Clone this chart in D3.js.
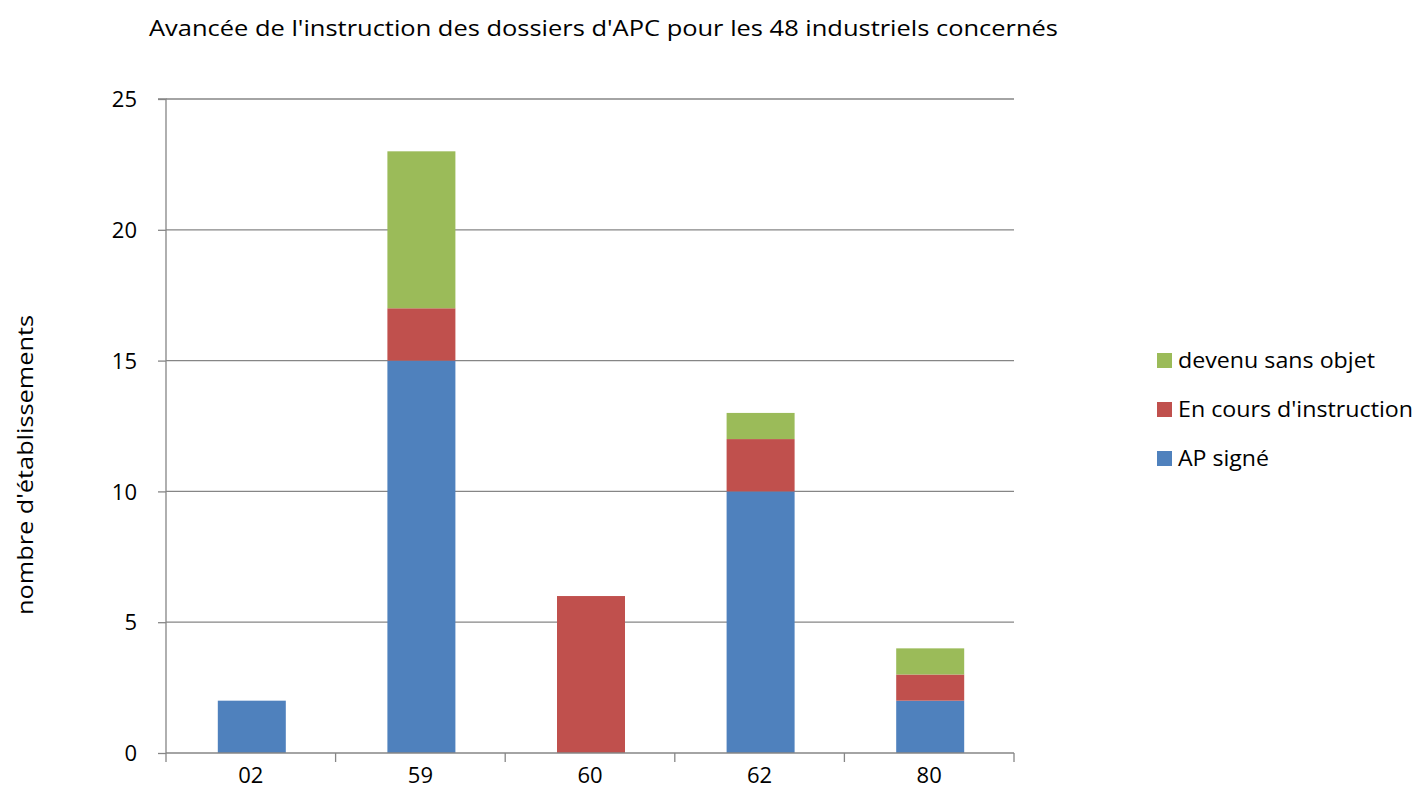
<!DOCTYPE html>
<html><head><meta charset="utf-8">
<script src="https://cdn.jsdelivr.net/npm/d3@7"></script>
<style>body{margin:0;background:#fff;} text{font-family:"Open Sans","Liberation Sans",sans-serif;fill:#000;}</style>
</head><body>
<svg id="c" width="1416" height="798"></svg>
<script>
const categories = ["02","59","60","62","80"];
const seriesNames = ["AP signé","En cours d'instruction","devenu sans objet"];
const apSigne = [2,15,0,10,2];
const enCours = [0,2,6,2,1];
const sansObjet = [0,6,0,1,1];
const colors = ["#4F81BD","#C0504D","#9BBB59"];
const yTicks = [0,5,10,15,20,25];

const svg = d3.select("#c");
const m = {l:166, r:1014, t:99, b:753};
const x = d3.scaleBand().domain(categories).range([m.l,m.r]).paddingInner(0.6).paddingOuter(0.3);
const xb = d3.scaleBand().domain(categories).range([m.l,m.r]);
const y = d3.scaleLinear().domain([0,25]).range([m.b,m.t]);

// gridlines
svg.append("g").selectAll("line").data(yTicks.filter(d=>d>0)).join("line")
  .attr("x1",m.l).attr("x2",m.r).attr("y1",d=>y(d)).attr("y2",d=>y(d))
  .attr("stroke","#868686").attr("stroke-width",1.3);

const rows = categories.map((c,i)=>({cat:c, v:[apSigne[i],enCours[i],sansObjet[i]]}));
const stack = d3.stack().keys([0,1,2]).value((d,k)=>d.v[k]);
const layers = stack(rows);
svg.append("g").selectAll("g").data(layers).join("g").attr("fill",(d,i)=>colors[i])
  .selectAll("rect").data(d=>d.filter(p=>p[1]>p[0])).join("rect")
  .attr("x",d=>xb(d.data.cat)+ (xb.bandwidth()-68)/2 +1).attr("width",68)
  .attr("y",d=>y(d[1])).attr("height",d=>y(d[0])-y(d[1]));

// axes
const ya = d3.axisLeft(y).tickValues(yTicks).tickSize(8).tickPadding(21);
const gy = svg.append("g").attr("transform",`translate(${m.l},0)`).call(ya);
gy.select(".domain").attr("stroke","#868686").attr("stroke-width",1.3).attr("d",`M-8,${m.t}H0V${m.b}`);
gy.selectAll(".tick line").attr("stroke","#868686").attr("stroke-width",1.3);
gy.selectAll(".tick text").style("font-size","22px").attr("dy","0.35em");

const xa = d3.axisBottom(x).tickSize(0).tickPadding(14);
const gx = svg.append("g").attr("transform",`translate(0,${m.b})`).call(xa);
gx.select(".domain").attr("stroke","#868686").attr("stroke-width",1.3).attr("d",`M${m.l},0H${m.r}`);
gx.selectAll(".tick text").style("font-size","22px").attr("dy","0.71em");
// category boundary ticks
gx.append("g").selectAll("line").data(categories.map(c=>xb(c)).concat([m.r])).join("line")
  .attr("x1",d=>d).attr("x2",d=>d).attr("y1",0).attr("y2",9)
  .attr("stroke","#868686").attr("stroke-width",1.3);

// title
svg.append("text").attr("x",149).attr("y",36).style("font-size","22px")
  .attr("textLength",909).attr("lengthAdjust","spacingAndGlyphs")
  .text("Avancée de l'instruction des dossiers d'APC pour les 48 industriels concernés");

// y label
svg.append("text").attr("transform","translate(33,465) rotate(-90)").attr("text-anchor","middle")
  .style("font-size","22px").attr("textLength",300).attr("lengthAdjust","spacingAndGlyphs")
  .text("nombre d'établissements");

// legend
const leg = [{n:seriesNames[2],c:colors[2],w:197},{n:seriesNames[1],c:colors[1],w:235},{n:seriesNames[0],c:colors[0],w:91}];
const lg = svg.append("g").selectAll("g").data(leg).join("g").attr("transform",(d,i)=>`translate(1157,${360+i*49})`);
lg.append("rect").attr("x",0).attr("y",-7).attr("width",15).attr("height",15).attr("fill",d=>d.c);
lg.append("text").attr("x",21).attr("y",0).attr("dy","0.35em").style("font-size","22px")
  .attr("textLength",d=>d.w).attr("lengthAdjust","spacingAndGlyphs").text(d=>d.n);
</script>
</body></html>
